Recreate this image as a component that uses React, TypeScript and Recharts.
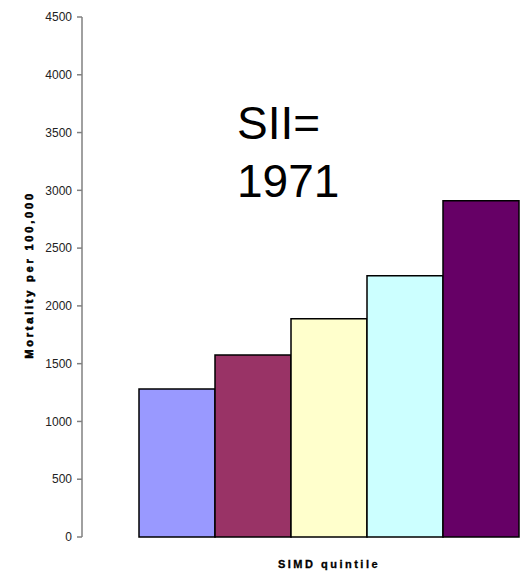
import React from 'react';
import { BarChart, Bar, XAxis, YAxis, Cell } from 'recharts';

const categories = ['1', '2', '3', '4', '5'];
const mortality = [1281, 1575, 1889, 2261, 2910];
const barColors = ['#9999ff', '#993366', '#ffffcc', '#ccffff', '#660066'];
const yTicks = [0, 500, 1000, 1500, 2000, 2500, 3000, 3500, 4000, 4500];
const annotationLines = ['SII=', '1971'];

const data = categories.map((c, i) => ({ quintile: c, value: mortality[i] }));

const FONT = '"Liberation Sans", Arial, sans-serif';

const YLabel = (props: any) => {
  const vb = props.viewBox || {};
  const cy = vb.y + vb.height / 2 - 2;
  const x = 33;
  return (
    <text
      x={x}
      y={cy}
      transform={`rotate(-90, ${x}, ${cy})`}
      textAnchor="middle"
      fontFamily={FONT}
      fontSize={11}
      fontWeight={900}
      letterSpacing={2.8}
      fill="#000"
      stroke="#000"
      strokeWidth={0.6}
    >
      Mortality per 100,000
    </text>
  );
};

const XLabel = () => {
  return (
    <text
      x={329}
      y={568}
      textAnchor="middle"
      fontFamily={FONT}
      fontSize={11}
      fontWeight={700}
      letterSpacing={2.5}
      fill="#000"
      stroke="#000"
      strokeWidth={0.3}
    >
      SIMD quintile
    </text>
  );
};

export default function App() {
  return (
    <div style={{ position: 'absolute', left: 0, top: 0, width: 525, height: 573, background: '#fff' }}>
      <BarChart
        width={525}
        height={573}
        data={data}
        margin={{ top: 17, right: 6, bottom: 0, left: 0 }}
        barCategoryGap={0}
        barGap={0}
      >
        <XAxis
          dataKey="quintile"
          axisLine={false}
          tickLine={false}
          tick={false}
          height={36}
          padding={{ left: 57, right: 0 }}
          label={<XLabel />}
        />
        <YAxis
          domain={[0, 4500]}
          ticks={yTicks}
          width={82}
          axisLine={{ stroke: '#808080', strokeWidth: 1.5 }}
          tickLine={{ stroke: '#808080', strokeWidth: 1.5 }}
          tickSize={5}
          tickMargin={5}
          tick={{ fontFamily: FONT, fontSize: 12, fill: '#222' }}
          label={<YLabel />}
        />
        <Bar dataKey="value" isAnimationActive={false} stroke="#000" strokeWidth={1.5}>
          {data.map((d, i) => (
            <Cell key={d.quintile} fill={barColors[i]} />
          ))}
        </Bar>
      </BarChart>
      <div
        style={{
          position: 'absolute',
          left: 237,
          top: 94,
          fontFamily: FONT,
          fontSize: 46,
          lineHeight: '58px',
          color: '#000',
          whiteSpace: 'pre',
        }}
      >
        {annotationLines.map((l) => (
          <div key={l}>{l}</div>
        ))}
      </div>
    </div>
  );
}
